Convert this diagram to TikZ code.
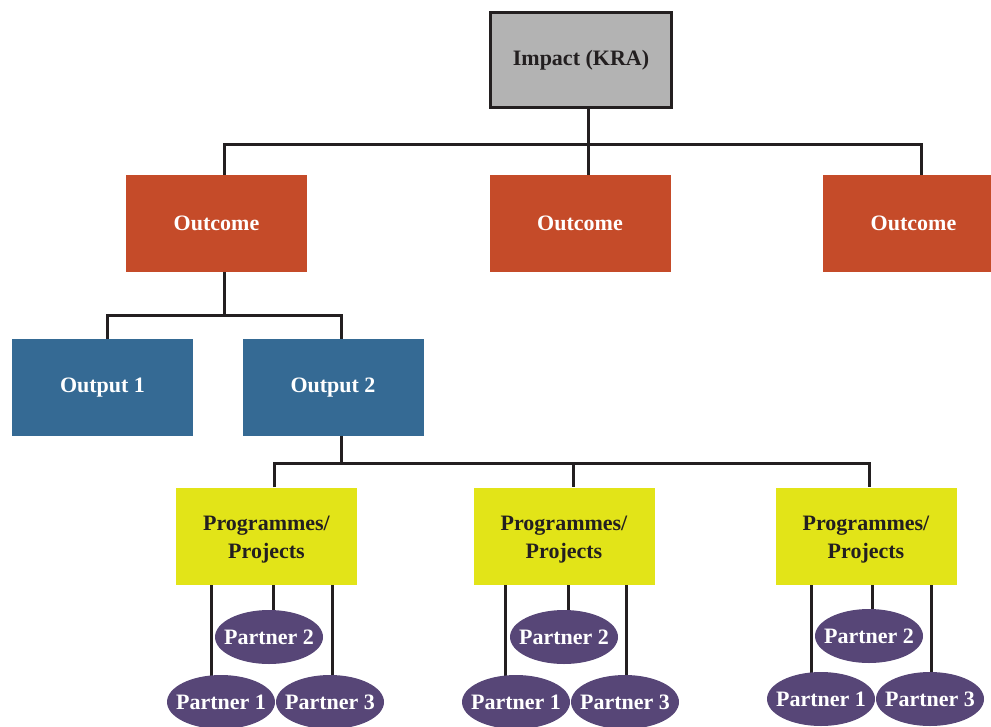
\documentclass[tikz,border=0pt]{standalone}
\usepackage{fontspec}
\setmainfont{Liberation Serif}
\usetikzlibrary{backgrounds,shapes.geometric}
\definecolor{inkdark}{HTML}{231F20}
\definecolor{impactgray}{HTML}{B3B3B3}
\definecolor{outcomered}{HTML}{C54B29}
\definecolor{outputblue}{HTML}{356A94}
\definecolor{progyellow}{HTML}{E2E418}
\definecolor{partnerpurple}{HTML}{574677}
\begin{document}
\begin{tikzpicture}[x=1pt,y=-1pt,
  lbl/.style={font=\bfseries\fontsize{22}{28}\selectfont, align=center, inner sep=0pt},
  box/.style={lbl, rectangle, minimum width=181pt, minimum height=97pt},
  impactbox/.style={lbl, rectangle, draw=inkdark, line width=3pt, fill=impactgray,
    text=inkdark, minimum width=181pt, minimum height=95pt},
  outcomebox/.style={box, fill=outcomered, text=white},
  outputbox/.style={box, fill=outputblue, text=white},
  progtext/.style={lbl, text=inkdark, yshift=-4pt},
  progbox/.style={box, fill=progyellow,
    label={[progtext]center:{Programmes/\\Projects}}},
  partner/.style={lbl, ellipse, fill=partnerpurple, text=white,
    inner xsep=-15pt, inner ysep=-8pt,
    minimum width=108pt, minimum height=54pt},
  link/.style={draw=inkdark, line width=3pt}]
\useasboundingbox (0,0) rectangle (991,726);

% boxes
\node[impactbox] (impact) at (581,60) {Impact (KRA)};
\node[outcomebox] (oc1) at (216.5,223.5) {Outcome};
\node[outcomebox] (oc2) at (580,223.5) {Outcome};
\node[outcomebox] (oc3) at (913.5,223.5) {Outcome};
\node[outputbox] (out1) at (102.5,387.5) {Output 1};
\node[outputbox] (out2) at (333,387.5) {Output 2};
\node[progbox] (pr1) at (266.5,536) {};
\node[progbox] (pr2) at (564,536) {};
\node[progbox] (pr3) at (866,536) {};

% partner ellipses
\node[partner] (pa12) at (269,637) {Partner 2};
\node[partner] (pa11) at (221,702) {Partner 1};
\node[partner] (pa13) at (330,702) {Partner 3};
\node[partner] (pa22) at (564,637) {Partner 2};
\node[partner] (pa21) at (516,702) {Partner 1};
\node[partner] (pa23) at (625,702) {Partner 3};
\node[partner] (pa32) at (869,636) {Partner 2};
\node[partner] (pa31) at (821,699) {Partner 1};
\node[partner] (pa33) at (930,699) {Partner 3};

% junction points of the tree
\coordinate (t1) at (224,144);
\coordinate (t2) at (588,144);
\coordinate (t3) at (921,144);
\coordinate (u0) at (224,315);
\coordinate (u1) at (107,315);
\coordinate (u2) at (341,315);
\coordinate (v0) at (341,463);
\coordinate (v1) at (274,463);
\coordinate (v2) at (573,463);
\coordinate (v3) at (869,463);
% drop lines to the partners
\coordinate (q11) at (211,0);
\coordinate (q12) at (273,0);
\coordinate (q13) at (332,0);
\coordinate (q21) at (505,0);
\coordinate (q22) at (568,0);
\coordinate (q23) at (626,0);
\coordinate (q31) at (811,0);
\coordinate (q32) at (872,0);
\coordinate (q33) at (931,0);

\begin{scope}[on background layer]
  \draw[link] (impact.south -| t2) -- (t2);
  \draw[link] (oc1.north -| t1) -- (t1) -- (t3) -- (oc3.north -| t3);
  \draw[link] (t2) -- (oc2.north -| t2);

  \draw[link] (oc1.south -| u0) -- (u0);
  \draw[link] (out1.north -| u1) -- (u1) -- (u2) -- (out2.north -| u2);

  \draw[link] (out2.south -| v0) -- (v0);
  \draw[link] (pr1.north -| v1) -- (v1) -- (v3) -- (pr3.north -| v3);
  \draw[link] (v2) -- (pr2.north -| v2);

  \draw[link] (pr1.south -| q11) -- (pa11 -| q11);
  \draw[link] (pr1.south -| q12) -- (pa12 -| q12);
  \draw[link] (pr1.south -| q13) -- (pa13 -| q13);
  \draw[link] (pr2.south -| q21) -- (pa21 -| q21);
  \draw[link] (pr2.south -| q22) -- (pa22 -| q22);
  \draw[link] (pr2.south -| q23) -- (pa23 -| q23);
  \draw[link] (pr3.south -| q31) -- (pa31 -| q31);
  \draw[link] (pr3.south -| q32) -- (pa32 -| q32);
  \draw[link] (pr3.south -| q33) -- (pa33 -| q33);
\end{scope}
\end{tikzpicture}
\end{document}
